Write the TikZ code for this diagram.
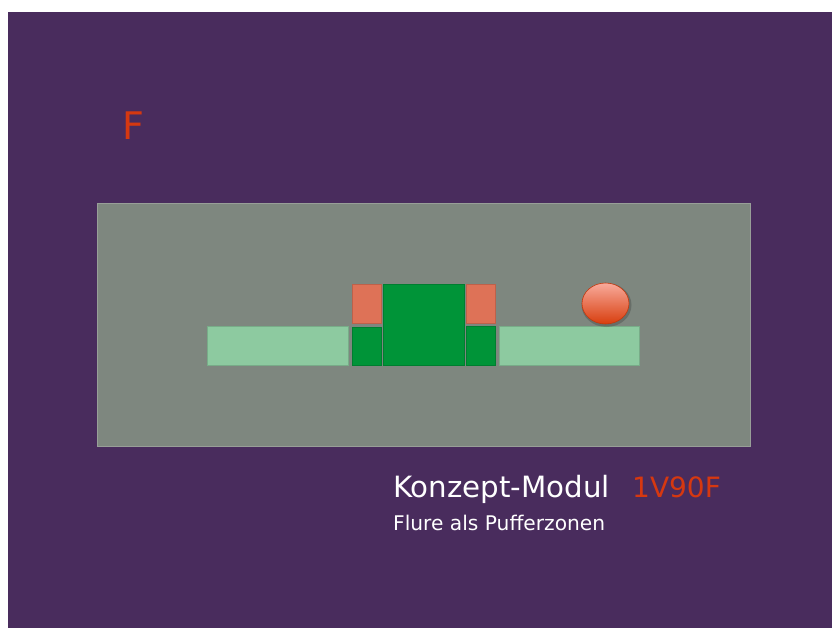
\documentclass[tikz,border=0pt]{standalone}
\usepackage{fontspec}
\setmainfont{DejaVu Sans}
\definecolor{bgpurple}{RGB}{73,44,93}
\definecolor{panelgray}{RGB}{126,135,127}
\definecolor{lightgreen}{RGB}{141,202,160}
\definecolor{darkgreen}{RGB}{0,148,56}
\definecolor{salmon}{RGB}{222,114,87}
\definecolor{redtext}{RGB}{214,56,16}
\definecolor{balltop}{RGB}{248,170,155}
\definecolor{ballbot}{RGB}{216,62,14}
\begin{document}
\begin{tikzpicture}[x=1pt,y=-1pt,
  block/.style={draw=#1!85!black,line width=0.6pt,fill=#1},
  label/.style={inner sep=0pt,anchor=base west,text=white}]
\useasboundingbox (0,0) rectangle (832,628);
\fill[white] (0,0) rectangle (832,628);
\fill[bgpurple] (8,12) rectangle (832,628);
\fill[panelgray] (97,203) rectangle (750,446);
\draw[panelgray!80!white,line width=0.6pt] (97,203) rectangle (750,446);
% floor strip
\path[block=lightgreen] (207.5,326) rectangle (348,365.5);
\path[block=lightgreen] (499,326) rectangle (639,365.5);
\path[block=darkgreen] (352,327) rectangle (381,365.5);
\path[block=salmon] (352,284) rectangle (381,323);
\path[block=darkgreen] (383,284) rectangle (464,365.5);
\path[block=salmon] (466,284) rectangle (495,323);
\path[block=darkgreen] (466,326) rectangle (495,365.5);
% ball with soft shadow
\fill[black,opacity=0.18] (606.5,305) ellipse [x radius=25,y radius=22];
\shade[top color=balltop,bottom color=ballbot,draw=ballbot!90!black,line width=0.6pt]
  (605.5,303.5) ellipse [x radius=23.5,y radius=20.5];
% texts
\node[label,text=redtext,font=\fontsize{38}{40}\selectfont] (f) at (122,140) {F};
\node[label,font=\fontsize{29.3}{32}\selectfont] (title) at (393,497) {Konzept-Modul};
\node[label,text=redtext,font=\fontsize{28}{30}\selectfont] (code) at (632,497) {1V90F};
\node[label,font=\fontsize{20.2}{23}\selectfont] (sub) at (393,530.5) {Flure als Pufferzonen};
\end{tikzpicture}
\end{document}
